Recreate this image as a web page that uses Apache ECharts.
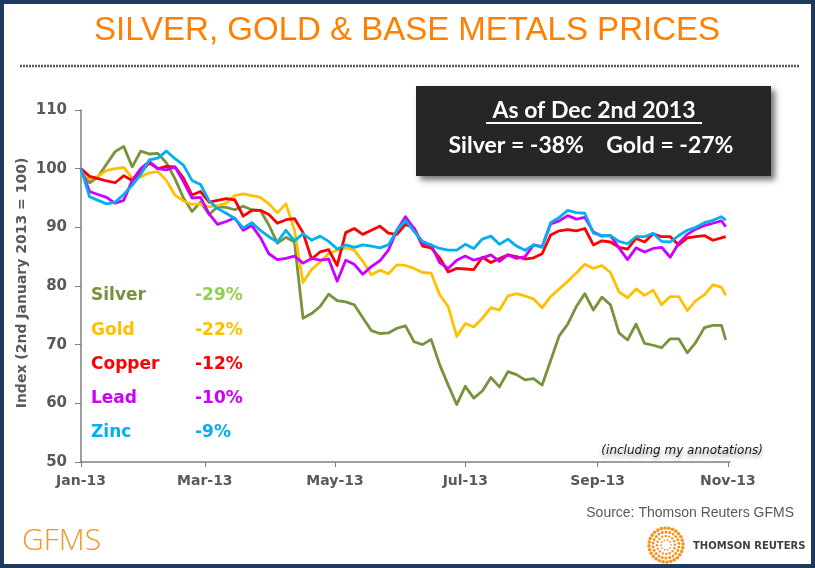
<!DOCTYPE html>
<html>
<head>
<meta charset="utf-8">
<script src="https://cdn.jsdelivr.net/npm/echarts@6/dist/echarts.min.js"></script>
<style>html,body{margin:0;padding:0;background:#fff}#c{width:815px;height:568px}</style>
</head>
<body>
<div id="c"></div>
<script>
// Index values (2nd January 2013 = 100), one reading every 4 days from 2 Jan 2013
const silver = [100, 97.6, 98.6, 100.8, 102.9, 103.8, 100.3, 103.0, 102.5, 102.6,
  101.0, 98.3, 95.0, 92.7, 94.3, 92.2, 93.5, 93.4, 93.0, 93.6,
  93.0, 92.9, 90.4, 87.3, 88.3, 87.5, 74.5, 75.3, 76.5, 78.6,
  77.5, 77.3, 76.8, 74.6, 72.4, 71.9, 72.0, 72.8, 73.2, 70.5,
  70.0, 70.9, 66.6, 63.1, 59.8, 62.9, 60.9, 62.1, 64.4, 62.8,
  65.4, 64.9, 64.0, 64.2, 63.1, 67.3, 71.5, 73.5, 76.5, 78.7,
  75.9, 78.1, 76.8, 72.0, 70.8, 73.5, 70.2, 69.9, 69.5, 71.0,
  71.0, 68.6, 70.4, 72.9, 73.3, 73.3, 70.8];
const gold = [100, 98.2, 98.7, 99.7, 100.0, 100.2, 98.4, 98.6, 99.3, 99.5,
  98.0, 95.5, 94.5, 93.9, 94.0, 93.5, 93.7, 94.1, 95.4, 95.7,
  95.4, 95.1, 94.0, 92.5, 94.0, 89.5, 80.6, 82.8, 84.1, 85.5,
  86.1, 86.5, 86.1, 84.2, 81.9, 82.7, 82.1, 83.6, 83.5, 83.0,
  82.3, 82.2, 78.5, 76.5, 71.4, 73.6, 73.0, 74.5, 76.3, 75.9,
  78.3, 78.7, 78.3, 77.8, 76.3, 78.2, 79.5, 80.8, 82.2, 83.7,
  83.0, 83.5, 82.3, 79.0, 78.0, 79.5, 78.4, 79.3, 76.8, 78.2,
  78.2, 75.8, 77.5, 78.5, 80.2, 79.8, 78.4];
const copper = [100, 98.7, 98.3, 97.9, 97.6, 98.8, 98.0, 99.4, 101.0, 100.0,
  100.4, 100.3, 98.4, 95.5, 96.1, 94.3, 94.6, 94.9, 94.7, 91.9,
  92.9, 92.9, 92.2, 90.7, 91.3, 91.5, 89.1, 84.6, 85.8, 86.2,
  83.5, 89.1, 89.8, 88.8, 89.5, 90.2, 89.0, 88.8, 90.5, 89.9,
  86.8, 86.5, 84.8, 82.4, 83.0, 82.9, 82.8, 84.9, 84.0, 84.7,
  85.3, 85.0, 84.6, 84.8, 85.5, 88.7, 89.4, 89.6, 89.4, 89.8,
  87.0, 87.7, 87.5, 86.6, 86.3, 88.1, 87.5, 88.9, 88.4, 88.4,
  87.0, 88.2, 88.4, 88.6, 87.8, 88.2, 88.4];
const lead = [100, 96.1, 95.6, 95.1, 94.1, 94.6, 98.0, 100.0, 101.2, 100.0,
  99.8, 100.3, 97.8, 95.0, 95.1, 92.3, 90.5, 91.0, 91.6, 89.5,
  90.3, 88.3, 85.5, 84.5, 84.7, 85.1, 83.9, 84.7, 84.4, 84.6,
  80.8, 84.4, 83.7, 82.0, 83.3, 84.3, 86.1, 89.5, 91.8, 89.8,
  87.2, 87.0, 84.0, 83.0, 84.4, 85.1, 84.4, 84.8, 85.3, 84.2,
  85.3, 84.7, 85.0, 87.0, 86.7, 90.6, 91.1, 92.0, 91.4, 91.7,
  89.2, 88.5, 88.6, 86.5, 84.5, 86.5, 85.8, 86.4, 86.6, 84.9,
  87.3, 88.8, 89.7, 90.3, 90.7, 91.1, 90.1];
const zinc = [100, 95.2, 94.6, 94.0, 94.3, 95.6, 97.2, 99.0, 101.5, 101.8,
  103.0, 101.7, 100.6, 98.0, 97.3, 94.5, 93.2, 92.4, 91.5, 89.9,
  90.8, 89.5, 88.4, 87.5, 89.5, 87.7, 88.9, 87.8, 88.5, 87.6,
  86.3, 87.0, 86.6, 87.0, 86.8, 86.5, 87.0, 89.5, 91.2, 89.3,
  87.6, 87.0, 86.4, 86.1, 86.1, 87.1, 86.4, 88.0, 88.5, 87.1,
  88.0, 86.8, 86.1, 87.0, 86.6, 90.8, 91.7, 92.9, 92.5, 92.4,
  89.0, 88.6, 88.6, 87.6, 87.2, 88.4, 88.4, 89.0, 87.6, 87.5,
  88.6, 89.5, 90.0, 90.8, 91.2, 91.8, 91.2];
const DAY_STEP = 4;               // days between readings
const LAST_DAY = 302;             // 1 Nov 2013, days after 2 Jan 2013
const days = silver.map((_, i) => Math.min(i * DAY_STEP, LAST_DAY));

const tickDays = [0, 58, 119, 180, 242, 303];
const tickLabels = ['Jan-13', 'Mar-13', 'May-13', 'Jul-13', 'Sep-13', 'Nov-13'];

const legendNames = ['Silver', 'Gold', 'Copper', 'Lead', 'Zinc'];
const legendChanges = ['-29%', '-22%', '-12%', '-10%', '-9%'];

const seriesValues = [silver, gold, copper, lead, zinc];
const lineColors = ['#77933c', '#ffc000', '#ff0000', '#cc00ff', '#00b0f0'];
const nameColors = ['#77933c', '#ffc000', '#ff0000', '#cc00ff', '#00b0f0'];
const changeColors = ['#92d050', '#ffc000', '#ff0000', '#cc00ff', '#00b0f0'];

const chart = echarts.init(document.getElementById('c'), null, {renderer: 'canvas'});

const boldFont = '"DejaVu Sans", Verdana, sans-serif';
const graphics = [];

// frame
graphics.push({type: 'rect', z: 100, shape: {x: 2, y: 2, width: 811, height: 564},
  style: {fill: 'none', stroke: '#1f3a5f', lineWidth: 4}});
// title
graphics.push({type: 'text', x: 407, y: 31, style: {text: 'SILVER, GOLD & BASE METALS PRICES',
  font: '33px "Liberation Sans", Arial, sans-serif', fill: '#ff8000', align: 'center', verticalAlign: 'middle'}});
// dotted rule
graphics.push({type: 'line', shape: {x1: 20, y1: 66, x2: 800, y2: 66},
  style: {stroke: '#595959', lineWidth: 2.5, lineDash: [2, 1]}});
// annotation box
graphics.push({type: 'rect', shape: {x: 416, y: 86, width: 355, height: 90},
  style: {fill: '#262626', shadowBlur: 6, shadowOffsetX: 4, shadowOffsetY: 4, shadowColor: 'rgba(0,0,0,0.55)'}});
graphics.push({type: 'text', x: 594, y: 111, style: {text: 'As of Dec 2nd 2013',
  font: 'bold 23px Lato, "Open Sans", sans-serif', fill: '#fff', align: 'center', verticalAlign: 'middle'}});
graphics.push({type: 'line', shape: {x1: 486, y1: 123, x2: 702, y2: 123}, style: {stroke: '#fff', lineWidth: 2}});
graphics.push({type: 'text', x: 591, y: 146, style: {text: 'Silver = -38%    Gold = -27%',
  font: 'bold 23px Lato, "Open Sans", sans-serif', fill: '#fff', align: 'center', verticalAlign: 'middle'}});
// in-plot legend
legendNames.forEach((n, i) => {
  const y = 296 + i * 34.2;
  graphics.push({type: 'text', z: 50, x: 91, y: y, style: {text: n, font: 'bold 17px ' + boldFont,
    fill: nameColors[i], verticalAlign: 'middle'}});
  graphics.push({type: 'text', z: 50, x: 195, y: y, style: {text: legendChanges[i], font: 'bold 17px ' + boldFont,
    fill: changeColors[i], verticalAlign: 'middle'}});
});
// y axis title
graphics.push({type: 'text', x: 22, y: 283, rotation: Math.PI / 2, style: {text: 'Index (2nd January 2013 = 100)',
  font: 'bold 14px ' + boldFont, fill: '#595959', align: 'center', verticalAlign: 'middle'}});
// annotation note
graphics.push({type: 'text', x: 763, y: 451, style: {text: '(including my annotations)',
  font: 'italic 12px ' + boldFont, fill: '#1a1a1a', align: 'right', verticalAlign: 'middle',
  textShadowBlur: 4, textShadowColor: 'rgba(0,0,0,0.45)', textShadowOffsetY: 3}});
// source
graphics.push({type: 'text', x: 794, y: 513, style: {text: 'Source: Thomson Reuters GFMS',
  font: '14px "Liberation Sans", Arial, sans-serif', fill: '#595959', align: 'right', verticalAlign: 'middle'}});
// GFMS
graphics.push({type: 'text', x: 22, y: 541, style: {text: 'GFMS',
  font: '300 30px "Open Sans", Lato, sans-serif', fill: '#f7941d', verticalAlign: 'middle'}});
// Thomson Reuters logo (decorative dot ring)
const rings = [{r: 5, n: 10, s: 0.9}, {r: 9, n: 16, s: 1.2}, {r: 13, n: 22, s: 1.5}, {r: 17, n: 28, s: 1.8}];
rings.forEach(rg => {
  for (let k = 0; k < rg.n; k++) {
    const a = (k / rg.n) * Math.PI * 2 + rg.r;
    graphics.push({type: 'circle', shape: {cx: 666 + rg.r * Math.cos(a), cy: 545 + rg.r * Math.sin(a), r: rg.s},
      style: {fill: '#f7941d'}});
  }
});
graphics.push({type: 'text', x: 693, y: 546, style: {text: 'THOMSON REUTERS',
  font: 'bold 10px ' + boldFont, fill: '#404040', verticalAlign: 'middle'}});

chart.setOption({
  backgroundColor: '#fff',
  animation: false,
  grid: {left: 81, right: 85, top: 110, bottom: 106, containLabel: false},
  xAxis: {
    type: 'value', min: 0, max: 304,
    axisLine: {show: true, lineStyle: {color: '#7f7f7f', width: 1.5}},
    axisTick: {show: true, length: 5, lineStyle: {color: '#7f7f7f'}, customValues: tickDays},
    axisLabel: {customValues: tickDays, margin: 12,
      formatter: v => tickLabels[tickDays.indexOf(v)] || '',
      color: '#595959', fontWeight: 'bold', fontSize: 14, fontFamily: boldFont},
    splitLine: {show: false}
  },
  yAxis: {
    type: 'value', min: 50, max: 110, interval: 10,
    axisLine: {show: true, lineStyle: {color: '#7f7f7f', width: 1.5}},
    axisTick: {show: true, length: 6, lineStyle: {color: '#7f7f7f'}},
    axisLabel: {margin: 14, color: '#595959', fontWeight: 'bold', fontSize: 15, fontFamily: boldFont},
    splitLine: {show: false}
  },
  series: seriesValues.map((vals, i) => ({
    type: 'line', name: legendNames[i], showSymbol: false, symbol: 'none',
    data: vals.map((v, j) => [days[j], v]),
    lineStyle: {color: lineColors[i], width: 2.8, join: 'round'},
    itemStyle: {color: lineColors[i]}, z: 2 + i
  })),
  graphic: graphics
});
</script>
</body>
</html>
